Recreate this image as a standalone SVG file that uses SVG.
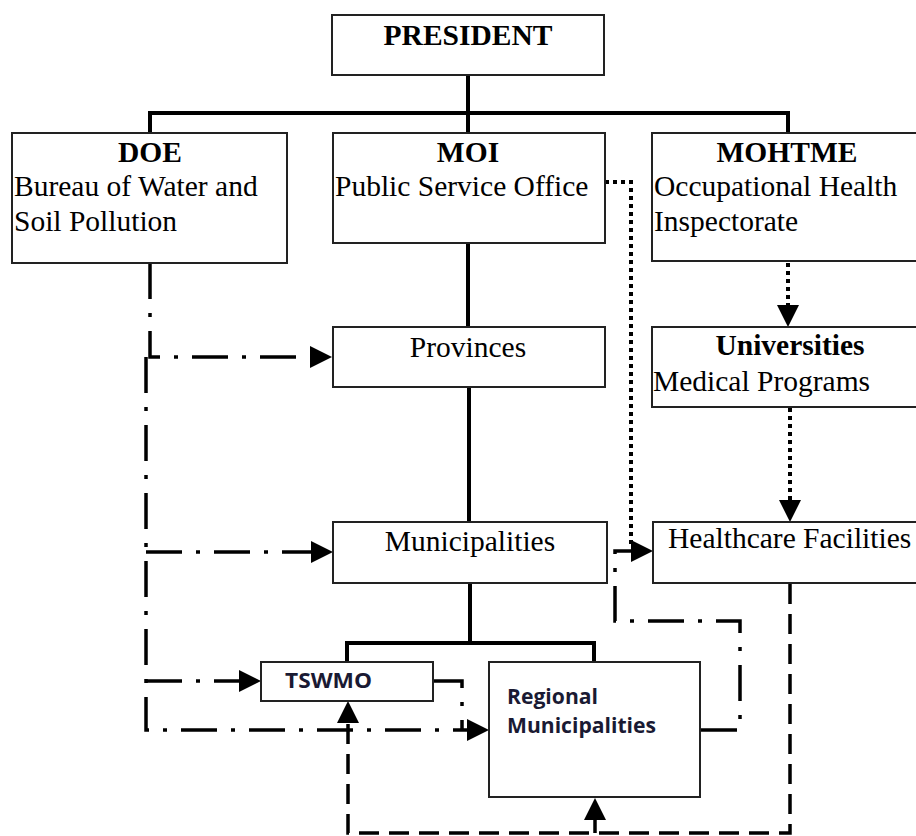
<svg xmlns="http://www.w3.org/2000/svg" width="916" height="836" viewBox="0 0 916 836">
<style>
.box{fill:#fff;stroke:#222;stroke-width:2}
.t{font-family:"Liberation Serif","Times New Roman",serif;font-size:29.5px;fill:#000}
.b{font-weight:bold}
.s{font-family:"Open Sans",Lato,sans-serif;font-weight:bold;font-size:21.5px;fill:#1a1a33}
.solid{fill:none;stroke:#000;stroke-width:4}
.dot{fill:none;stroke:#000;stroke-width:4;stroke-dasharray:4 4}
.dd{fill:none;stroke:#000;stroke-width:3.5;stroke-dasharray:36 14 4 14}
.dash{fill:none;stroke:#000;stroke-width:3.5;stroke-dasharray:20 10}
</style>
<defs>
<marker id="ah" markerUnits="userSpaceOnUse" markerWidth="24" markerHeight="24" refX="0" refY="11" orient="auto" overflow="visible">
<path d="M0,0 L22,11 L0,22 Z" fill="#000"/>
</marker>
</defs>
<rect width="916" height="836" fill="#fff"/>
<g id="connectors">
<path class="solid" d="M468 75 V113 M148 113 H790 M150 111 V133 M468 113 V133 M788 111 V133"/>
<path class="solid" d="M468 243 V327 M469 387 V522 M470 583 V643 M345 643 H596 M347 641 V662 M594 641 V662"/>
<path class="dot" d="M788 263 V305" marker-end="url(#ah)"/>
<path class="dot" d="M790 408 V500" marker-end="url(#ah)"/>
<path class="dot" d="M605 182 H631 V548"/>
<path class="dd" d="M150 263 V357 H310" marker-end="url(#ah)"/>
<path class="dd" d="M146 357 V730 H467" marker-end="url(#ah)"/>
<path class="dd" d="M146 552 H311" marker-end="url(#ah)"/>
<path class="dd" d="M146 681 H239" marker-end="url(#ah)"/>
<path class="dd" d="M433 681 H462 V730"/>
<path class="dd" d="M701 730 H740 V621 H615 V551 H631" marker-end="url(#ah)"/>
<path class="dash" d="M790 584 V833 H348 V723" marker-end="url(#ah)"/>
<path class="dash" d="M595 833 V820" marker-end="url(#ah)"/>
</g>
<g id="president">
<rect class="box" x="332" y="15" width="272" height="60"/>
<text class="t b" x="468" y="45" text-anchor="middle">PRESIDENT</text>
</g>
<g id="doe">
<rect class="box" x="12" y="133" width="275" height="130"/>
<text class="t b" x="150" y="162" text-anchor="middle">DOE</text>
<text class="t" x="14" y="196">Bureau of Water and</text>
<text class="t" x="14" y="231">Soil Pollution</text>
</g>
<g id="moi">
<rect class="box" x="333" y="133" width="272" height="110"/>
<text class="t b" x="468" y="162" text-anchor="middle">MOI</text>
<text class="t" x="335" y="196">Public Service Office</text>
</g>
<g id="mohtme">
<rect class="box" x="652" y="133" width="270" height="128"/>
<text class="t b" x="787" y="162" text-anchor="middle">MOHTME</text>
<text class="t" x="654" y="196">Occupational Health</text>
<text class="t" x="654" y="231">Inspectorate</text>
</g>
<g id="provinces">
<rect class="box" x="333" y="327" width="272" height="60"/>
<text class="t" x="468" y="357" text-anchor="middle">Provinces</text>
</g>
<g id="universities">
<rect class="box" x="652" y="327" width="270" height="80"/>
<text class="t b" x="790" y="355" text-anchor="middle">Universities</text>
<text class="t" x="653" y="391">Medical Programs</text>
</g>
<g id="municipalities">
<rect class="box" x="333" y="522" width="274" height="61"/>
<text class="t" x="470" y="551" text-anchor="middle">Municipalities</text>
</g>
<g id="healthcare">
<rect class="box" x="653" y="522" width="270" height="61"/>
<text class="t" x="668" y="548">Healthcare Facilities</text>
</g>
<g id="tswmo">
<rect class="box" x="261" y="662" width="172" height="39"/>
<text class="s" x="285" y="688" textLength="87" lengthAdjust="spacingAndGlyphs">TSWMO</text>
</g>
<g id="regional">
<rect class="box" x="489" y="662" width="211" height="135"/>
<text class="s" x="507" y="704" textLength="91" lengthAdjust="spacingAndGlyphs">Regional</text>
<text class="s" x="507" y="733" textLength="149" lengthAdjust="spacingAndGlyphs">Municipalities</text>
</g>
</svg>
